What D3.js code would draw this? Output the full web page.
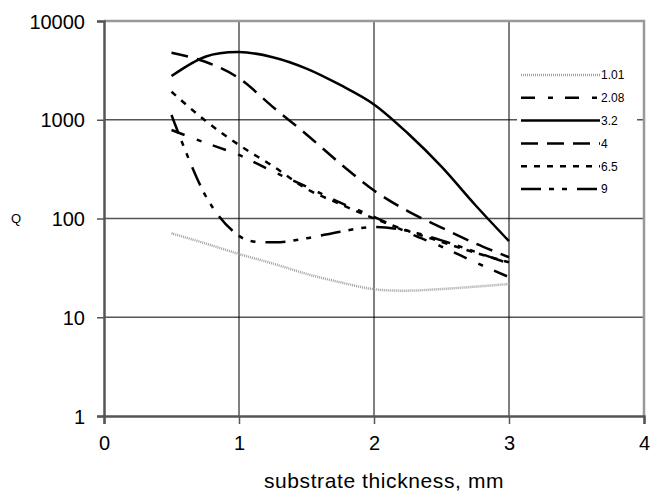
<!DOCTYPE html>
<html>
<head>
<meta charset="utf-8">
<script src="https://cdn.jsdelivr.net/npm/d3@7"></script>
<style>
  body { margin: 0; background: #fff; }
  text { font-family: Arial, "Liberation Sans", sans-serif; fill: #000; }
</style>
</head>
<body>
<div id="chart"></div>
<script>
// substrate thickness (mm) at each sampled point
const thickness = [0.5, 0.75, 1, 1.25, 1.5, 1.75, 2, 2.25, 2.5, 2.75, 3];
const seriesNames = ["1.01", "2.08", "3.2", "4", "6.5", "9"];
const q101 = [70.8, 56, 43.7, 35, 27.5, 22.6, 19.2, 18.6, 19.3, 20.4, 21.7];
const q208 = [787, 585, 440, 300, 210, 145, 104, 72, 52, 36, 25.5];
const q32  = [2770, 4350, 4850, 4300, 3300, 2250, 1430, 730, 335, 137, 59];
const q4   = [4775, 3870, 2630, 1350, 710, 360, 192, 119, 81, 56, 40.5];
const q65  = [1920, 980, 555, 340, 200, 140, 100, 75, 58, 45, 36];
const q9   = [1117, 172, 66.7, 57.5, 63, 73.6, 82, 75, 60, 46, 35];
const xTicks = [0, 1, 2, 3, 4];
const yTicks = [1, 10, 100, 1000, 10000];

const allSeries = [q101, q208, q32, q4, q65, q9];
const styles = [
  { stroke: "#a0a0a0", width: 2.5, dash: "1,1" },
  { stroke: "#000", width: 2.5, dash: "14,13,5,12" },
  { stroke: "#000", width: 2.5, dash: null },
  { stroke: "#000", width: 2.5, dash: "17,9" },
  { stroke: "#000", width: 2.5, dash: "6,7" },
  { stroke: "#000", width: 2.5, dash: "20,8,5,8,5,10" }
];

const W = 650, H = 492;
const pLeft = 104, pRight = 644, pTop = 21, pBottom = 416;

const svg = d3.select("#chart").append("svg").attr("width", W).attr("height", H);

const x = d3.scaleLinear().domain([0, 4]).range([pLeft, pRight]);
const y = d3.scaleLog().domain([1, 10000]).range([pBottom, pTop]);

// gridlines
svg.append("g").selectAll("line").data(yTicks.slice(1, 4)).enter()
  .append("line").attr("x1", pLeft).attr("x2", pRight)
    .attr("y1", d => y(d)).attr("y2", d => y(d))
    .attr("stroke", "#555").attr("stroke-width", 1.5);
svg.append("g").selectAll("line").data(xTicks.slice(1, 4)).enter()
  .append("line").attr("x1", d => x(d)).attr("x2", d => x(d))
    .attr("y1", pTop).attr("y2", pBottom)
    .attr("stroke", "#000").attr("stroke-width", 1);

// top and right frame
svg.append("path").attr("d", `M${pLeft},${pTop}H${pRight}V${pBottom}`)
  .attr("fill", "none").attr("stroke", "#999").attr("stroke-width", 2.5);

// series
const line = d3.line().x((d, i) => x(thickness[i])).y(d => y(d)).curve(d3.curveCatmullRom.alpha(0));
svg.append("g").selectAll("path").data(allSeries).enter()
  .append("path").attr("d", d => line(d)).attr("fill", "none")
    .attr("stroke", (d, i) => styles[i].stroke)
    .attr("stroke-width", (d, i) => styles[i].width)
    .attr("stroke-dasharray", (d, i) => styles[i].dash);

// axes
const xAxis = svg.append("g").attr("transform", `translate(0,${pBottom})`)
  .call(d3.axisBottom(x).tickValues(xTicks).tickSize(8).tickPadding(12).tickFormat(d3.format("d")));
const yAxis = svg.append("g").attr("transform", `translate(${pLeft},0)`)
  .call(d3.axisLeft(y).tickValues(yTicks).tickSize(7).tickPadding(12).tickFormat(d3.format("d")));
[xAxis, yAxis].forEach(a => {
  a.select(".domain").attr("stroke", "#555").attr("stroke-width", 2.5);
  a.selectAll(".tick line").attr("stroke", "#555").attr("stroke-width", 1.5);
  a.selectAll(".tick text").style("font-size", "20px").attr("fill", "#000");
});
yAxis.selectAll(".tick text").attr("dy", "0.36em");

svg.append("text").attr("x", 384).attr("y", 488).attr("text-anchor", "middle")
  .style("font-size", "21px").style("letter-spacing", "0.6px").text("substrate thickness, mm");
svg.append("text").attr("x", 16).attr("y", 223).attr("text-anchor", "middle")
  .style("font-size", "13px").text("Q");

// legend
const legend = svg.append("g");
legend.append("rect").attr("x", 517).attr("y", 62).attr("width", 120).attr("height", 138).attr("fill", "#fff");
const rows = legend.selectAll("g").data(seriesNames).enter().append("g")
  .attr("transform", (d, i) => `translate(0,${75 + i * 22.8})`);
rows.append("line").attr("x1", 521).attr("x2", 600)
  .attr("stroke", (d, i) => styles[i].stroke)
  .attr("stroke-width", (d, i) => styles[i].width)
  .attr("stroke-dasharray", (d, i) => styles[i].dash);
rows.append("text").attr("x", 601).attr("dy", "0.36em").style("font-size", "12px").text(d => d);
</script>
</body>
</html>
